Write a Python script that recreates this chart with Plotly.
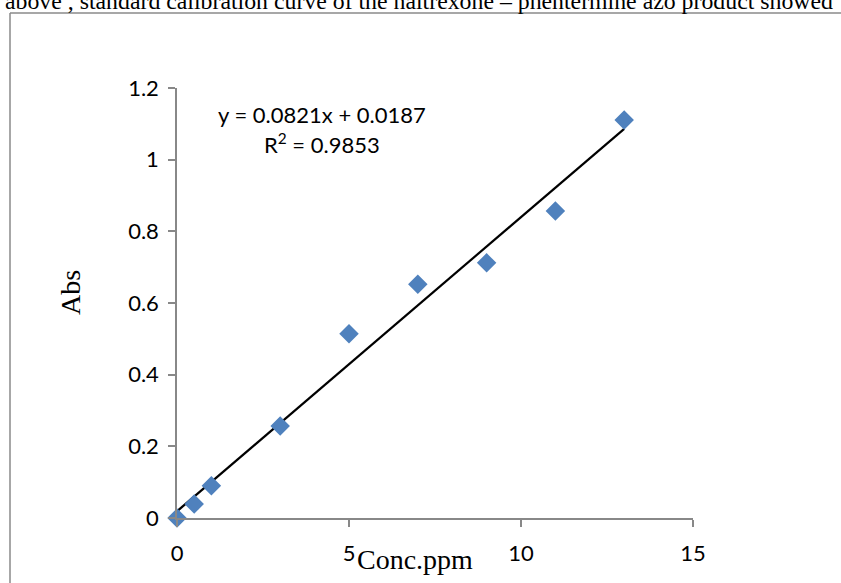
import plotly.graph_objects as go

conc = [0, 0.5, 1, 3, 5, 7, 9, 11, 13]
absorb = [0.0, 0.039, 0.09, 0.257, 0.514, 0.652, 0.712, 0.857, 1.111]
slope = 0.0821
intercept = 0.0187
fit_x = [0, 13]
x_ticks = [0, 5, 10, 15]
y_ticks = [0, 0.2, 0.4, 0.6, 0.8, 1.0, 1.2]
y_tick_text = ["0", "0.2", "0.4", "0.6", "0.8", "1", "1.2"]

W, H = 841, 583
L, R, T, B = 177, 693, 88, 518
pw, ph = R - L, B - T


def px(xp):
    return (xp - L) / pw


def py(yp):
    return (B - yp) / ph


fit_y = [slope * v + intercept for v in fit_x]

fig = go.Figure()
fig.add_trace(go.Scatter(
    x=fit_x, y=fit_y, mode="lines",
    line=dict(color="black", width=2.2), cliponaxis=False, hoverinfo="skip"))
fig.add_trace(go.Scatter(
    x=conc, y=absorb, mode="markers",
    marker=dict(symbol="diamond", size=15, color="#4F81BD"),
    cliponaxis=False))

sans = "Lato, Open Sans, sans-serif"
axis_common = dict(
    showgrid=False, zeroline=False, showline=True, linecolor="#888888",
    linewidth=1.5, ticks="outside", ticklen=7, tickwidth=1.5,
    tickcolor="#888888",
    tickfont=dict(family=sans, size=22, color="black"))

fig.update_xaxes(range=[0, 15], tickvals=x_ticks, ticktext=[str(v) for v in x_ticks],
                 ticklabelstandoff=8, **axis_common)
fig.update_yaxes(range=[0, 1.2], tickvals=y_ticks, ticktext=y_tick_text,
                 ticklabelstandoff=5, **axis_common)

# Frame box around figure
fig.add_shape(type="line", xref="paper", yref="paper",
              x0=px(10), y0=py(13), x1=px(850), y1=py(13),
              line=dict(color="#8a8a8a", width=1.5))
fig.add_shape(type="line", xref="paper", yref="paper",
              x0=px(10), y0=py(13), x1=px(10), y1=py(600),
              line=dict(color="#8a8a8a", width=1.5))

serif = "Liberation Serif, Times New Roman, serif"
fig.add_annotation(
    text="above , standard calibration curve of the naltrexone – phentermine azo product showed",
    xref="paper", yref="paper", x=px(3), y=py(1), xanchor="left", yanchor="middle",
    showarrow=False, font=dict(family=serif, size=23.8, color="black"))
fig.add_annotation(
    text="y = 0.0821x + 0.0187", xref="paper", yref="paper",
    x=px(322), y=py(114), xanchor="center", yanchor="middle", showarrow=False,
    font=dict(family=sans, size=22, color="black"))
fig.add_annotation(
    text="R<sup>2</sup> = 0.9853", xref="paper", yref="paper",
    x=px(322), y=py(143), xanchor="center", yanchor="middle", showarrow=False,
    font=dict(family=sans, size=22, color="black"))
fig.add_annotation(
    text="Abs", xref="paper", yref="paper", x=px(70), y=py(293),
    xanchor="center", yanchor="middle", textangle=-90, showarrow=False,
    font=dict(family=serif, size=28, color="black"))
fig.add_annotation(
    text="Conc.ppm", xref="paper", yref="paper", x=px(415), y=py(559),
    xanchor="center", yanchor="middle", showarrow=False,
    font=dict(family=serif, size=28, color="black"))

fig.update_layout(
    width=W, height=H, showlegend=False,
    margin=dict(l=L, r=W - R, t=T, b=H - B, pad=0),
    plot_bgcolor="white", paper_bgcolor="white")

fig.write_html(
    "out.html",
    config={"displayModeBar": False},
    post_script="document.body.style.margin='0';document.body.style.overflow='hidden';")
